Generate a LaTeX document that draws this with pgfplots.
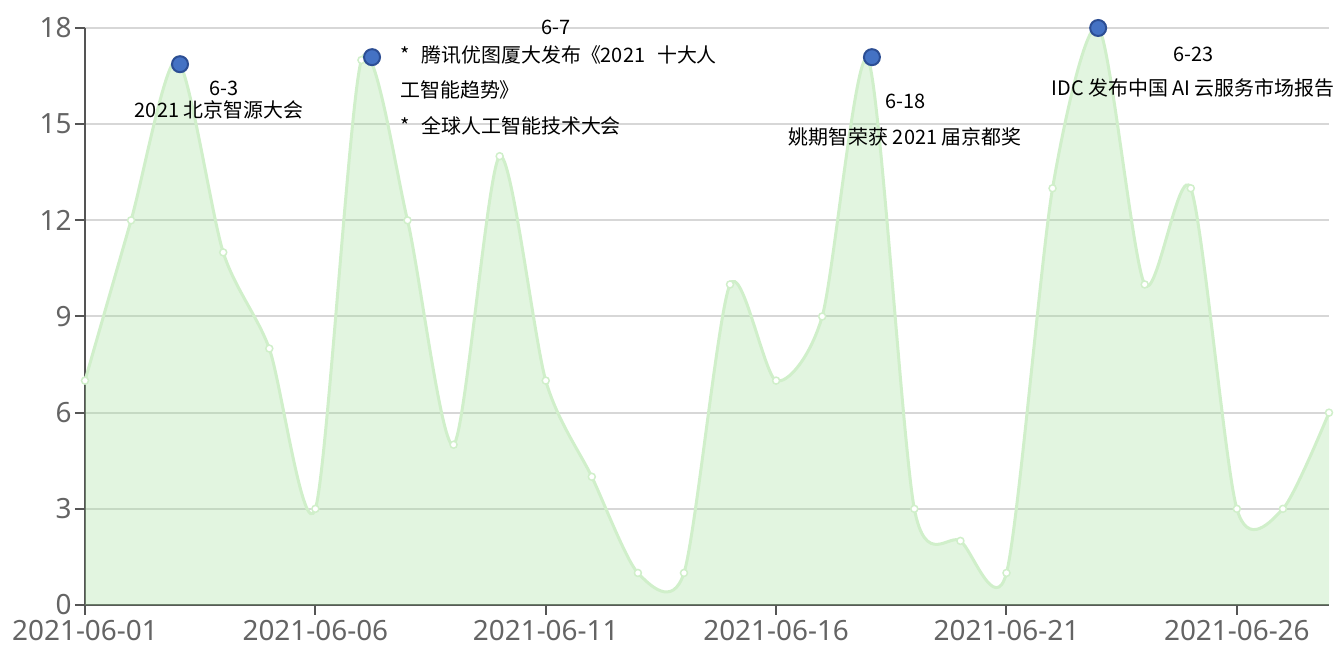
\documentclass[border=0pt]{standalone}
\usepackage{pgfplots}
\pgfplotsset{compat=1.18}
\usepgfplotslibrary{fillbetween}
\usepackage{pgfplotstable}
\usepackage{fontspec}
\setmainfont{Noto Sans}
\newfontfamily\cjk{Noto Sans CJK SC}
\definecolor{areabase}{RGB}{158,222,152}
\definecolor{arealine}{RGB}{208,239,202}
\definecolor{evblue}{RGB}{68,114,196}
\definecolor{evedge}{RGB}{44,78,148}
\definecolor{ticktext}{RGB}{100,100,100}
\definecolor{axisgray}{RGB}{85,85,85}
\definecolor{gridgray}{RGB}{215,215,215}
\pgfplotstableread{
x y
0 7
1 12
2 17
3 11
4 8
5 3
6 17
7 12
8 5
9 14
10 7
11 4
12 1
13 1
14 10
15 7
16 9
17 17
18 3
19 2
20 1
21 13
22 18
23 10
24 13
25 3
26 3
27 6
}\datatable
\pgfplotstableread{
x y
2.062 16.87
6.23 17.09
17.08 17.09
21.99 18.0
}\eventtable
\begin{document}
\begin{tikzpicture}
\begin{axis}[
  at={(0,0)}, anchor=south west,
  scale only axis, width=1244bp, height=577bp,
  xmin=0, xmax=27, ymin=0, ymax=18,
  clip=false,
  axis x line=bottom, axis y line=left,
  axis line style={-, draw=axisgray, line width=2bp},
  xtick={0,5,10,15,20,25},
  xticklabels={2021-06-01,2021-06-06,2021-06-11,2021-06-16,2021-06-21,2021-06-26},
  ytick={0,3,6,9,12,15,18},
  tick align=outside,
  major tick length=10bp,
  tick style={draw=axisgray, line width=2bp},
  /pgf/number format/assume math mode=true,
  tick label style={font=\fontsize{28}{32}\selectfont, text=ticktext},
  xticklabel style={yshift=-2bp},
  ymajorgrids,
  grid style={draw=gridgray, line width=2bp},
  xmajorgrids=false,
]
\addplot[name path=curve, draw=none, smooth, tension=0.45] table[x=x,y=y] {\datatable};
\path[name path=base] (axis cs:0,0) -- (axis cs:27,0);
\addplot[fill=areabase, fill opacity=0.3, draw=none] fill between[of=curve and base];
\addplot[smooth, tension=0.45, draw=arealine, line width=3bp,
  mark=*, mark size=3.5bp, mark options={fill=white, draw=arealine, line width=1.5bp}]
  table[x=x,y=y] {\datatable};
\addplot[only marks, mark=*, mark size=8bp, mark options={fill=evblue, draw=evedge, line width=2bp}]
  table[x=x,y=y] {\eventtable};
\begin{scope}[every node/.style={font=\cjk\fontsize{20}{24}\selectfont, text=black, inner sep=0pt}]
\node at (axis cs:3.017,16.13) {6-3};
\node at (axis cs:2.909,15.44) {2021 北京智源大会};
\node at (axis cs:10.22,18.03) {6-7};
\node[anchor=west] at (axis cs:6.84,17.16) {*\hspace{0.6em}腾讯优图厦大发布《2021\hspace{0.6em}十大人};
\node[anchor=west] at (axis cs:6.84,16.06) {工智能趋势》};
\node[anchor=west] at (axis cs:6.84,14.94) {*\hspace{0.6em}全球人工智能技术大会};
\node at (axis cs:17.80,15.72) {6-18};
\node at (axis cs:17.80,14.60) {姚期智荣获 2021 届京都奖};
\node at (axis cs:24.05,17.19) {6-23};
\node at (axis cs:24.05,16.13) {IDC 发布中国 AI 云服务市场报告};
\end{scope}
\end{axis}
\pgfresetboundingbox
\path (-85bp,-44bp) rectangle (1256bp,605bp);
\end{tikzpicture}
\end{document}
